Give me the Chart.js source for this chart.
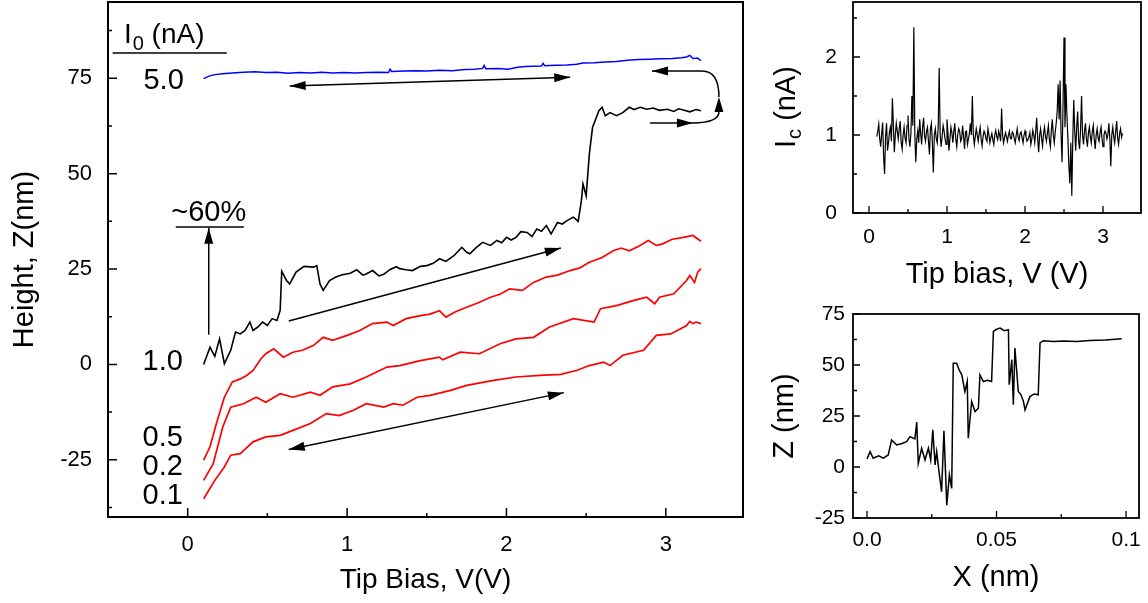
<!DOCTYPE html>
<html>
<head>
<meta charset="utf-8">
<script src="https://cdn.jsdelivr.net/npm/chart.js@4.4.1/dist/chart.umd.min.js"></script>
<style>
  html, body { margin: 0; padding: 0; background: #fff; }
  #wrap { position: relative; width: 1148px; height: 603px; overflow: hidden; }
  canvas { position: absolute; }
</style>
</head>
<body>
<div id="wrap">
  <canvas id="main" width="760" height="603" style="left:0;top:0;width:760px;height:603px"></canvas>
  <canvas id="ic" width="388" height="300" style="left:760px;top:0;width:388px;height:300px"></canvas>
  <canvas id="zx" width="388" height="303" style="left:760px;top:300px;width:388px;height:303px"></canvas>
</div>
<script>
// ---- main panel: height vs tip bias, one sweep per set-point current I0 ----
const blueV = [0.10,0.13,0.16,0.22,0.28,0.35,0.42,0.49,0.56,0.63,0.70,0.77,0.84,0.91,0.98,1.05,1.12,1.20,1.26,1.27,1.28,1.36,1.43,1.50,1.58,1.66,1.74,1.80,1.85,1.86,1.87,1.95,2.01,2.07,2.12,2.22,2.23,2.24,2.31,2.38,2.44,2.48,2.55,2.62,2.69,2.76,2.83,2.90,2.97,3.04,3.10,3.13,3.15,3.17,3.20,3.22];
const blueZ = [74.9,75.5,75.9,76.2,76.4,76.6,76.7,76.5,76.6,76.3,76.5,76.4,76.6,76.4,76.5,76.4,76.5,76.6,76.5,77.4,76.8,76.9,77.0,76.9,77.1,77.0,77.3,77.4,77.6,78.4,77.5,77.6,77.4,77.9,78.1,78.2,78.9,78.3,78.4,78.5,78.7,79.0,79.1,79.3,79.4,79.7,79.9,80.0,80.1,80.2,80.4,80.6,81.0,80.2,80.3,79.6];

const blackV = [0.10,0.14,0.17,0.20,0.23,0.27,0.30,0.33,0.36,0.39,0.41,0.44,0.47,0.50,0.53,0.56,0.58,0.59,0.62,0.64,0.68,0.73,0.79,0.81,0.83,0.85,0.89,0.93,0.97,1.02,1.06,1.10,1.12,1.16,1.20,1.23,1.27,1.31,1.33,1.37,1.41,1.46,1.50,1.54,1.58,1.62,1.67,1.72,1.75,1.77,1.81,1.85,1.90,1.94,1.97,2.00,2.03,2.06,2.09,2.13,2.16,2.19,2.22,2.25,2.28,2.32,2.35,2.38,2.42,2.45,2.47,2.48,2.50,2.52,2.54,2.58,2.60,2.62,2.65,2.69,2.73,2.77,2.80,2.84,2.88,2.92,2.96,3.01,3.05,3.08,3.11,3.15,3.19,3.22];
const blackZ = [0,4.5,2.1,6.7,0.2,3.7,8.5,8.0,8.9,11.1,8.9,9.8,11.1,10.2,12.0,11.5,14.1,24.4,22.0,21.1,24.2,25.7,25.5,25.9,21.1,19.4,22.0,22.9,23.5,23.9,24.8,23.4,23.7,24.6,23.2,23.6,24.9,25.6,25.1,24.8,24.6,25.7,25.9,26.5,27.7,27.0,28.5,30.7,29.4,29.0,30.6,32.0,31.2,32.5,31.9,33.3,32.6,33.3,34.8,34.6,33.5,35.5,34.9,36.4,34.2,37.2,36.8,37.7,38.6,37.5,42.9,47.3,44.2,55.2,62.1,66.5,67.4,65.2,66.0,65.2,66.0,67.4,66.8,67.4,66.9,67.2,66.6,66.9,66.3,67.0,66.7,66.2,66.8,66.5];

const red05V = [0.10,0.14,0.18,0.23,0.28,0.33,0.37,0.41,0.46,0.49,0.54,0.60,0.66,0.72,0.79,0.85,0.91,1.00,1.08,1.16,1.25,1.29,1.37,1.46,1.52,1.58,1.62,1.68,1.75,1.82,1.90,1.96,2.02,2.10,2.17,2.25,2.32,2.40,2.46,2.52,2.60,2.67,2.72,2.77,2.83,2.89,2.94,2.98,3.04,3.11,3.17,3.22];
const red05Z = [-25.1,-21.6,-15.5,-8.6,-4.6,-3.8,-2.9,-1.6,1.5,2.8,4.1,1.9,3.2,3.7,5.0,7.1,6.3,7.6,8.9,10.7,11.1,10.2,12.0,12.8,13.2,14.1,12.4,13.8,15.0,16.1,17.6,18.4,19.8,19.4,21.5,22.9,23.4,24.6,25.3,26.8,28.0,29.8,30.5,29.8,31.0,32.5,31.2,31.6,32.8,33.3,33.8,32.3];

const red02V = [0.10,0.16,0.22,0.27,0.35,0.43,0.49,0.58,0.66,0.77,0.83,0.91,1.02,1.12,1.25,1.33,1.46,1.58,1.60,1.71,1.83,1.96,2.06,2.17,2.27,2.42,2.55,2.59,2.69,2.80,2.88,2.93,2.96,3.05,3.13,3.15,3.18,3.20,3.22];
const red02Z = [-30.4,-26.0,-16.4,-11.2,-10.3,-8.6,-9.9,-7.7,-8.6,-7.3,-8.1,-5.9,-5.1,-3.3,-0.7,-0.3,1.0,1.9,1.2,3.2,2.8,5.4,6.7,7.1,9.8,12.0,11.1,14.6,15.4,16.8,17.6,15.9,17.6,18.5,22.0,23.3,21.5,24.2,25.1];

const red01V = [0.10,0.17,0.23,0.27,0.33,0.41,0.49,0.58,0.66,0.77,0.87,0.95,1.04,1.12,1.23,1.29,1.35,1.44,1.52,1.65,1.75,1.92,2.06,2.21,2.34,2.44,2.52,2.61,2.65,2.73,2.86,2.94,3.03,3.09,3.13,3.15,3.17,3.19,3.22];
const red01Z = [-35.2,-30.4,-26.9,-23.8,-23.4,-20.3,-19.0,-18.6,-17.3,-15.5,-12.9,-13.4,-12.0,-10.3,-11.2,-10.3,-10.7,-8.6,-8.1,-6.8,-5.5,-4.2,-3.3,-2.9,-2.6,-1.6,-0.3,0.6,-0.3,2.4,3.7,7.6,8.0,9.3,10.2,11.3,10.7,11.1,10.7];

const mainXTicks = [0, 1, 2, 3];
const mainXLabels = ['0', '1', '2', '3'];
const mainYTicks = [-25, 0, 25, 50, 75];
const mainYLabels = ['-25', '0', '25', '50', '75'];

// ---- top right: current vs tip bias ----
const icBias = [
  0.1,0.1125,0.125,0.1375,0.15,0.1625,0.175,0.1875,0.2,0.2125,0.225,0.2375,0.25,0.2625,0.275,0.2875,0.3,0.3125,0.325,0.3375,
  0.35,0.3625,0.375,0.3875,0.4,0.4125,0.425,0.4375,0.45,0.4625,0.475,0.4875,0.5,0.5125,0.525,0.5375,0.55,0.5625,0.575,0.5875,
  0.6,0.6125,0.625,0.6375,0.65,0.6625,0.675,0.6875,0.7,0.7125,0.725,0.7375,0.75,0.7625,0.775,0.7875,0.8,0.8125,0.825,0.8375,
  0.85,0.8625,0.875,0.8875,0.9,0.9125,0.925,0.9375,0.95,0.9625,0.975,0.9875,1.0,1.0125,1.025,1.0375,1.05,1.0625,1.075,1.0875,
  1.1,1.1125,1.125,1.1375,1.15,1.1625,1.175,1.1875,1.2,1.2125,1.225,1.2375,1.25,1.2625,1.275,1.2875,1.3,1.3125,1.325,1.3375,
  1.35,1.3625,1.375,1.3875,1.4,1.4125,1.425,1.4375,1.45,1.4625,1.475,1.4875,1.5,1.5125,1.525,1.5375,1.55,1.5625,1.575,1.5875,
  1.6,1.6125,1.625,1.6375,1.65,1.6625,1.675,1.6875,1.7,1.7125,1.725,1.7375,1.75,1.7625,1.775,1.7875,1.8,1.8125,1.825,1.8375,
  1.85,1.8625,1.875,1.8875,1.9,1.9125,1.925,1.9375,1.95,1.9625,1.975,1.9875,2.0,2.0125,2.025,2.0375,2.05,2.0625,2.075,2.0875,
  2.1,2.1125,2.125,2.1375,2.15,2.1625,2.175,2.1875,2.2,2.2125,2.225,2.2375,2.25,2.2625,2.275,2.2875,2.3,2.3125,2.325,2.3375,
  2.35,2.3625,2.375,2.3875,2.4,2.4125,2.425,2.4375,2.45,2.4625,2.475,2.4875,2.5,2.5125,2.525,2.5375,2.55,2.5625,2.575,2.5875,
  2.6,2.6125,2.625,2.6375,2.65,2.6625,2.675,2.6875,2.7,2.7125,2.725,2.7375,2.75,2.7625,2.775,2.7875,2.8,2.8125,2.825,2.8375,
  2.85,2.8625,2.875,2.8875,2.9,2.9125,2.925,2.9375,2.95,2.9625,2.975,2.9875,3.0,3.0125,3.025,3.0375,3.05,3.0625,3.075,3.0875,
  3.1,3.1125,3.125,3.1375,3.15,3.1625,3.175,3.1875,3.2,3.2125,3.225,3.2375,3.25];
const icCurrent = [
  0.98,1.05,1.14,0.95,0.85,1.02,1.16,0.72,0.50,0.98,1.15,0.80,0.90,1.04,1.10,0.92,1.47,1.12,0.78,1.00,
  1.15,1.05,0.95,1.08,1.18,0.90,0.82,1.00,1.10,0.96,0.90,1.12,1.25,0.95,0.85,1.02,1.50,1.12,2.38,1.00,
  0.65,0.95,1.05,0.90,1.20,1.02,0.88,1.10,1.22,0.98,0.92,1.05,1.10,0.92,0.75,1.08,1.15,0.90,0.52,1.00,
  1.08,0.95,0.90,1.10,1.86,1.00,0.85,0.98,1.12,1.05,0.95,0.88,1.20,1.02,0.80,0.95,1.10,1.03,0.90,1.05,
  1.15,0.95,0.85,1.00,1.08,1.05,0.92,0.95,1.12,0.98,0.82,1.04,1.05,0.88,0.95,1.02,1.15,1.00,1.50,1.00,
  0.88,0.98,1.08,1.00,0.92,1.02,1.10,0.95,0.86,0.98,1.05,1.02,0.95,0.92,1.08,1.00,0.90,0.97,1.02,0.94,
  0.88,1.00,1.06,0.98,0.94,1.05,1.00,0.92,1.34,1.00,0.90,0.97,1.03,0.98,0.92,1.00,1.05,0.96,0.95,1.04,
  1.02,0.95,0.90,1.00,1.08,0.97,0.93,1.02,1.04,0.96,0.90,1.00,1.05,0.98,0.92,0.94,0.98,1.03,0.88,0.95,
  1.06,1.00,0.90,1.05,1.22,0.95,0.78,1.00,1.08,0.95,0.86,1.02,1.10,0.98,0.92,1.03,1.12,0.94,0.85,1.05,
  1.20,1.00,0.90,1.04,1.15,1.30,1.65,1.20,1.70,1.00,0.65,1.40,2.25,1.10,1.65,1.25,0.95,0.60,0.38,0.90,
  0.22,0.95,1.45,1.05,0.80,1.10,1.30,0.92,0.82,1.08,1.50,1.00,0.88,1.05,1.15,0.95,0.85,1.02,1.10,0.98,
  0.90,1.04,1.12,0.95,0.82,1.00,1.08,0.96,0.92,1.03,1.10,0.95,0.85,1.00,1.05,1.03,0.95,1.00,1.15,0.95,
  0.60,1.00,1.10,0.98,0.90,1.05,1.18,0.96,0.88,1.02,1.08,0.97,1.02];
const icXTicks = [0, 1, 2, 3];
const icXLabels = ['0', '1', '2', '3'];
const icYTicks = [0, 1, 2];
const icYLabels = ['0', '1', '2'];

// ---- bottom right: height profile ----
const zxX = [0.000,0.0012,0.0024,0.0045,0.0063,0.0082,0.0095,0.0115,0.0135,0.0153,0.0166,0.0185,0.0192,0.0198,0.0211,0.0224,0.0237,0.0246,0.0254,0.0263,0.0269,0.0278,0.0288,0.0297,0.0308,0.0318,0.0327,0.0333,0.0346,0.0356,0.0366,0.0378,0.0387,0.0391,0.0404,0.0417,0.0430,0.0436,0.0449,0.0465,0.0481,0.0488,0.0500,0.0514,0.0530,0.0546,0.0549,0.0559,0.0565,0.0571,0.0584,0.0594,0.0604,0.0610,0.0629,0.0645,0.0661,0.0668,0.0681,0.0720,0.0760,0.0810,0.0860,0.0920,0.0983];
const zxZ = [3.9,7.5,4.3,5.5,4.3,5.9,13.3,10.8,11.5,12.4,14.9,13.8,22.0,1.8,9.2,3.4,9.2,3.4,18.2,1.0,7.5,-2.3,-12.1,17.7,-18.7,-3.9,-10.5,50.9,50.9,47.5,45.2,37.0,41.9,14.1,32.1,27.2,28.8,45.2,41.9,42.5,41.9,66.5,67.5,68.1,66.8,67.3,40.3,52.6,30.5,58.3,37.0,35.5,32.1,28.0,34.5,35.8,35.4,60.8,61.9,61.5,61.8,61.5,62.0,62.3,62.9];
const zxXTicks = [0, 0.05, 0.1];
const zxXLabels = ['0.0', '0.05', '0.1'];
const zxYTicks = [-25, 0, 25, 50, 75];
const zxYLabels = ['-25', '0', '25', '50', '75'];

const FONT = "'Liberation Sans', Arial, Helvetica, sans-serif";

const pts = (xs, ys) => xs.map((x, i) => ({ x, y: ys[i] }));

function tickLabel(majors, labels) {
  return v => {
    const i = majors.findIndex(t => Math.abs(t - v) < 1e-6);
    return i < 0 ? '' : labels[i];
  };
}

function linScale(o) {
  return {
    type: 'linear', min: o.min, max: o.max,
    grid: { display: false, drawTicks: false },
    border: { display: false },
    ticks: {
      stepSize: o.step, autoSkip: false, includeBounds: false, maxRotation: 0,
      padding: o.pad, color: '#000', font: { family: FONT, size: o.size },
      callback: tickLabel(o.majors, o.labels),
    },
    title: o.title
      ? { display: true, text: o.title, color: '#000', font: { family: FONT, size: o.titleSize }, padding: { top: o.titlePad, bottom: o.titlePad } }
      : { display: false },
    afterFit: s => {
      // fixed box sizes; labels may hang past the plot edges
      if (o.width != null) s.width = o.width;
      if (o.height != null) s.height = o.height;
      s.paddingTop = 0; s.paddingBottom = 0; s.paddingLeft = 0; s.paddingRight = 0;
    },
  };
}

// frame + inward ticks (long for labelled ticks, short for the others)
const boxTicks = {
  id: 'boxTicks',
  afterDraw(chart, args, opts) {
    const { ctx, chartArea: a, scales } = chart;
    ctx.save();
    ctx.strokeStyle = '#000';
    ctx.lineWidth = opts.tickWidth;
    ctx.beginPath();
    scales.x.ticks.forEach(t => {
      const p = scales.x.getPixelForValue(t.value);
      ctx.moveTo(p, a.bottom);
      ctx.lineTo(p, a.bottom - (t.label ? opts.major : opts.minor));
    });
    scales.y.ticks.forEach(t => {
      const p = scales.y.getPixelForValue(t.value);
      ctx.moveTo(a.left, p);
      ctx.lineTo(a.left + (t.label ? opts.major : opts.minor), p);
    });
    ctx.stroke();
    ctx.lineWidth = opts.frame;
    ctx.strokeRect(a.left, a.top, a.right - a.left, a.bottom - a.top);
    ctx.restore();
  }
};

function arrowHead(ctx, fx, fy, tx, ty, len, hw) {
  const ang = Math.atan2(ty - fy, tx - fx);
  const c = Math.cos(ang), s = Math.sin(ang);
  ctx.beginPath();
  ctx.moveTo(tx, ty);
  ctx.lineTo(tx - len * c - hw * s, ty - len * s + hw * c);
  ctx.lineTo(tx - len * c + hw * s, ty - len * s - hw * c);
  ctx.closePath();
  ctx.fill();
}

// annotations of the main panel, in data units
const arrows = [
  { from: [0.64, 73.0], to: [2.40, 75.3], both: true },
  { from: [0.634, 11.4], to: [2.341, 30.5], both: false },
  { from: [0.634, -22.3], to: [2.36, -7.4], both: true },
  { from: [0.132, 7.8], to: [0.132, 35.8], both: false },
  { from: [3.227, 76.9], to: [2.913, 76.9], both: false },
  { from: [2.900, 63.3], to: [3.170, 63.3], both: false },
];
const loops = [
  { from: [3.227, 76.9], ctrl: [3.333, 76.9], to: [3.333, 70.1] },
  { from: [3.170, 63.3], ctrl: [3.333, 63.3], to: [3.333, 66.2] },
];
const underlines = [[-0.471, 0.245, 81.6], [-0.075, 0.352, 36.0]];
const notes = [
  { t: '5.0', x: -0.151, y: 72.2 },
  { t: '1.0', x: -0.157, y: -1.4 },
  { t: '0.5', x: -0.157, y: -21.5 },
  { t: '0.2', x: -0.157, y: -29.0 },
  { t: '0.1', x: -0.157, y: -36.7 },
  { t: '~60%', x: 0.132, y: 37.6 },
];

const mainNotes = {
  id: 'mainNotes',
  afterDraw(chart) {
    const { ctx, scales: { x, y } } = chart;
    const X = v => x.getPixelForValue(v), Y = v => y.getPixelForValue(v);
    ctx.save();
    ctx.strokeStyle = '#000';
    ctx.fillStyle = '#000';
    ctx.lineWidth = 1.5;
    arrows.forEach(a => {
      const fx = X(a.from[0]), fy = Y(a.from[1]), tx = X(a.to[0]), ty = Y(a.to[1]);
      ctx.beginPath(); ctx.moveTo(fx, fy); ctx.lineTo(tx, ty); ctx.stroke();
      arrowHead(ctx, fx, fy, tx, ty, 16, 4.5);
      if (a.both) arrowHead(ctx, tx, ty, fx, fy, 16, 4.5);
    });
    loops.forEach(l => {
      ctx.beginPath();
      ctx.moveTo(X(l.from[0]), Y(l.from[1]));
      ctx.quadraticCurveTo(X(l.ctrl[0]), Y(l.ctrl[1]), X(l.to[0]), Y(l.to[1]));
      ctx.stroke();
    });
    // upward head joining the two loop halves
    arrowHead(ctx, X(3.333), Y(66.2), X(3.333), Y(70.1), 15, 4.5);
    underlines.forEach(u => {
      ctx.beginPath(); ctx.moveTo(X(u[0]), Y(u[2])); ctx.lineTo(X(u[1]), Y(u[2])); ctx.stroke();
    });
    ctx.textBaseline = 'alphabetic';
    ctx.textAlign = 'center';
    ctx.font = '29px ' + FONT;
    notes.forEach(n => ctx.fillText(n.t, X(n.x), Y(n.y)));
    // I0 (nA) header
    ctx.textAlign = 'left';
    let px = X(-0.40);
    const base = Y(84.2);
    ctx.font = '28px ' + FONT;
    ctx.fillText('I', px, base);
    px += ctx.measureText('I').width + 1;
    ctx.font = '20px ' + FONT;
    ctx.fillText('0', px, base + 7);
    px += ctx.measureText('0').width;
    ctx.font = '28px ' + FONT;
    ctx.fillText(' (nA)', px, base);
    ctx.restore();
  }
};

const icTitle = {
  id: 'icTitle',
  afterDraw(chart) {
    const { ctx, chartArea: a } = chart;
    ctx.save();
    ctx.translate(35, (a.top + a.bottom) / 2);
    ctx.rotate(-Math.PI / 2);
    ctx.fillStyle = '#000';
    ctx.textBaseline = 'alphabetic';
    const big = '29px ' + FONT, small = '20px ' + FONT;
    ctx.font = big;
    const w1 = ctx.measureText('I').width, w3 = ctx.measureText(' (nA)').width;
    ctx.font = small;
    const w2 = ctx.measureText('c').width;
    const x0 = -(w1 + w2 + w3) / 2;
    ctx.font = big; ctx.fillText('I', x0, 0);
    ctx.font = small; ctx.fillText('c', x0 + w1 + 1, 6);
    ctx.font = big; ctx.fillText(' (nA)', x0 + w1 + w2 + 1, 0);
    ctx.restore();
  }
};

function line(data, color, width) {
  return { data, borderColor: color, borderWidth: width, pointRadius: 0, tension: 0, fill: false };
}

const common = {
  responsive: false, animation: false, events: [],
  plugins: { legend: { display: false }, tooltip: { enabled: false } },
};

new Chart(document.getElementById('main'), {
  type: 'line',
  data: {
    datasets: [
      line(pts(blueV, blueZ), '#0000ff', 1.5),
      line(pts(blackV, blackZ), '#000000', 1.6),
      line(pts(red05V, red05Z), '#ff0000', 1.7),
      line(pts(red02V, red02Z), '#ff0000', 1.7),
      line(pts(red01V, red01Z), '#ff0000', 1.7),
    ]
  },
  options: {
    ...common,
    layout: { padding: { left: 0, top: 2, right: 17, bottom: 0 } },
    scales: {
      x: linScale({ min: -0.5, max: 3.484, step: 0.5, majors: mainXTicks, labels: mainXLabels, pad: 15, size: 22,
        title: 'Tip Bias, V(V)', titleSize: 28, titlePad: 6, height: 86 }),
      y: linScale({ min: -40, max: 95, step: 12.5, majors: mainYTicks, labels: mainYLabels, pad: 16, size: 22,
        title: 'Height, Z(nm)', titleSize: 29, titlePad: 8, width: 108 }),
    },
    plugins: { ...common.plugins, boxTicks: { tickWidth: 1.5, major: 9, minor: 4, frame: 2 } },
  },
  plugins: [boxTicks, mainNotes],
});

new Chart(document.getElementById('ic'), {
  type: 'line',
  data: { datasets: [line(pts(icBias, icCurrent), '#000000', 1.2)] },
  options: {
    ...common,
    layout: { padding: { left: 0, top: 2, right: 7, bottom: 0 } },
    scales: {
      x: linScale({ min: -0.205, max: 3.487, step: 0.5, majors: icXTicks, labels: icXLabels, pad: 12, size: 21,
        title: 'Tip bias, V (V)', titleSize: 29, titlePad: 8, height: 87 }),
      y: linScale({ min: 0, max: 2.705, step: 0.5, majors: icYTicks, labels: icYLabels, pad: 16, size: 21, width: 93 }),
    },
    plugins: { ...common.plugins, boxTicks: { tickWidth: 1.3, major: 7, minor: 4, frame: 1.8 } },
  },
  plugins: [boxTicks, icTitle],
});

new Chart(document.getElementById('zx'), {
  type: 'line',
  data: { datasets: [line(pts(zxX, zxZ), '#000000', 1.5)] },
  options: {
    ...common,
    layout: { padding: { left: 0, top: 14, right: 9, bottom: 0 } },
    scales: {
      x: linScale({ min: -0.0054, max: 0.105, step: 0.025, majors: zxXTicks, labels: zxXLabels, pad: 10, size: 21,
        title: 'X (nm)', titleSize: 29, titlePad: 8, height: 85 }),
      y: linScale({ min: -25, max: 75, step: 12.5, majors: zxYTicks, labels: zxYLabels, pad: 8, size: 21,
        title: 'Z (nm)', titleSize: 29, titlePad: 8, width: 93 }),
    },
    plugins: { ...common.plugins, boxTicks: { tickWidth: 1.3, major: 7, minor: 4, frame: 1.8 } },
  },
  plugins: [boxTicks],
});
</script>
</body>
</html>
